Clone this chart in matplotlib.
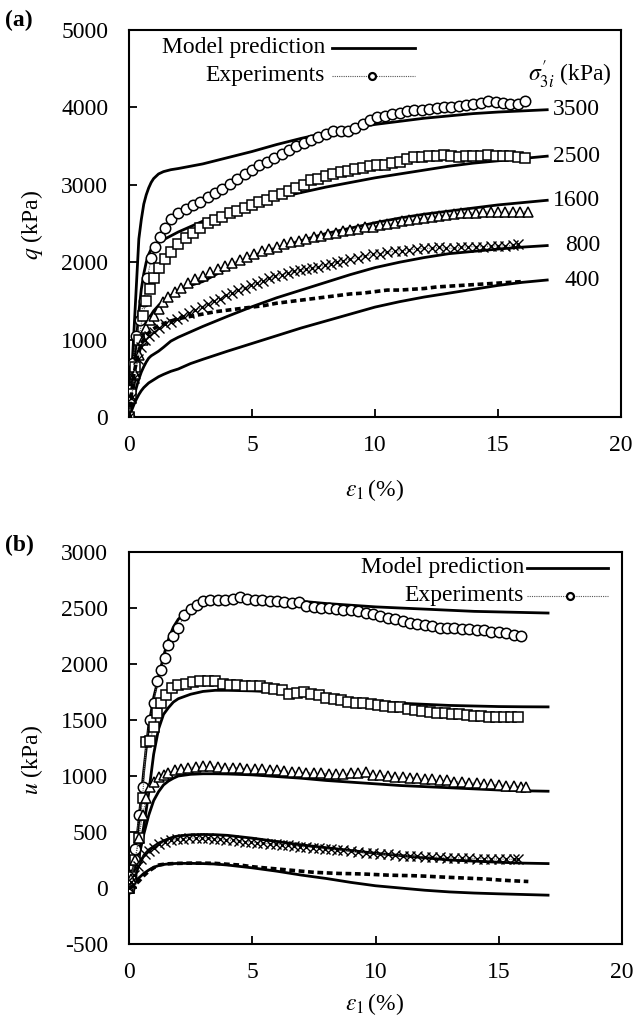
import matplotlib
matplotlib.use("Agg")
import matplotlib.pyplot as plt
from matplotlib.lines import Line2D
from matplotlib import font_manager

_avail = {f.name for f in font_manager.fontManager.ttflist}
_fam = [f for f in ['Liberation Serif', 'STIXGeneral', 'DejaVu Serif'] if f in _avail]
plt.rcParams['font.family'] = _fam
plt.rcParams['mathtext.fontset'] = 'stix'
plt.rcParams['axes.unicode_minus'] = False

# ---------------- Panel (a): deviator stress q ----------------
ma_x = [0, 0.1, 0.2, 0.3, 0.4, 0.5, 0.6, 0.7, 0.8, 0.9, 1.0, 1.2, 1.4, 1.7, 2.0, 2.5, 3, 4, 5, 6, 7, 8, 9, 10, 11, 12, 13, 14, 15, 16, 17]
ma_3500 = [0, 500, 1100, 1700, 2300, 2550, 2750, 2870, 2960, 3030, 3080, 3140, 3170, 3195, 3210, 3240, 3270, 3350, 3430, 3520, 3600, 3670, 3730, 3780, 3820, 3860, 3890, 3920, 3940, 3955, 3970]
ma_2500 = [0, 300, 650, 1000, 1350, 1650, 1850, 2000, 2100, 2170, 2220, 2260, 2290, 2340, 2390, 2460, 2530, 2640, 2740, 2830, 2900, 2970, 3030, 3090, 3140, 3190, 3240, 3280, 3310, 3340, 3370]
ma_1600 = [0, 200, 400, 600, 800, 950, 1080, 1180, 1260, 1320, 1370, 1440, 1500, 1570, 1630, 1700, 1750, 1920, 2080, 2180, 2280, 2370, 2440, 2510, 2570, 2620, 2660, 2700, 2740, 2770, 2800]
ma_800 = [0, 130, 260, 380, 490, 580, 650, 710, 760, 790, 810, 850, 900, 980, 1030, 1100, 1170, 1300, 1425, 1540, 1640, 1740, 1840, 1930, 2000, 2060, 2110, 2140, 2170, 2195, 2215]
ma_400 = [0, 80, 160, 230, 290, 340, 380, 410, 440, 460, 480, 520, 550, 590, 620, 690, 745, 850, 950, 1050, 1150, 1240, 1330, 1420, 1490, 1550, 1600, 1650, 1700, 1740, 1770]

ea_3500_x = [0, 0.05, 0.15, 0.3, 0.45, 0.6, 0.75, 0.9, 1.05, 1.25, 1.45, 1.7, 2.0, 2.3, 2.6, 2.9, 3.2, 3.5, 3.8, 4.1, 4.4, 4.7, 5.0, 5.3, 5.6, 5.9, 6.2, 6.5, 6.8, 7.1, 7.4, 7.7, 8.0, 8.3, 8.6, 8.9, 9.2, 9.5, 9.8, 10.1, 10.4, 10.7, 11.0, 11.3, 11.6, 11.9, 12.2, 12.5, 12.8, 13.1, 13.4, 13.7, 14.0, 14.3, 14.6, 14.9, 15.2, 15.5, 15.8, 16.1]
ea_3500 = [0, 350, 700, 1050, 1250, 1500, 1800, 2050, 2200, 2330, 2440, 2560, 2630, 2690, 2740, 2780, 2840, 2900, 2950, 3010, 3070, 3140, 3190, 3250, 3300, 3350, 3400, 3450, 3500, 3540, 3580, 3620, 3660, 3690, 3700, 3700, 3740, 3790, 3840, 3870, 3890, 3920, 3930, 3950, 3960, 3970, 3980, 3990, 4000, 4010, 4020, 4030, 4040, 4060, 4080, 4070, 4060, 4050, 4040, 4080]

ea_2500_x = [0, 0.1, 0.25, 0.4, 0.55, 0.7, 0.85, 1.0, 1.2, 1.45, 1.7, 2.0, 2.3, 2.6, 2.9, 3.2, 3.5, 3.8, 4.1, 4.4, 4.7, 5.0, 5.3, 5.6, 5.9, 6.2, 6.5, 6.8, 7.1, 7.4, 7.7, 8.0, 8.3, 8.6, 8.9, 9.2, 9.5, 9.8, 10.1, 10.4, 10.7, 11.0, 11.3, 11.6, 11.9, 12.2, 12.5, 12.8, 13.1, 13.4, 13.7, 14.0, 14.3, 14.6, 14.9, 15.2, 15.5, 15.8, 16.1]
ea_2500 = [0, 300, 650, 1000, 1300, 1500, 1650, 1800, 1930, 2040, 2130, 2230, 2310, 2380, 2440, 2500, 2540, 2590, 2630, 2660, 2700, 2740, 2780, 2810, 2850, 2880, 2920, 2960, 3000, 3060, 3080, 3120, 3140, 3160, 3180, 3200, 3220, 3240, 3250, 3260, 3280, 3300, 3330, 3360, 3360, 3370, 3370, 3380, 3370, 3360, 3370, 3370, 3370, 3380, 3370, 3370, 3370, 3360, 3350]

ea_1600_x = [0, 0.1, 0.25, 0.4, 0.55, 0.7, 0.85, 1.0, 1.2, 1.4, 1.6, 1.85, 2.1, 2.4, 2.7, 3.0, 3.3, 3.6, 3.9, 4.2, 4.5, 4.8, 5.1, 5.4, 5.7, 6.0, 6.3, 6.6, 6.9, 7.2, 7.5, 7.8, 8.1, 8.4, 8.7, 9.0, 9.3, 9.6, 9.9, 10.2, 10.5, 10.8, 11.1, 11.4, 11.7, 12.0, 12.3, 12.6, 12.9, 13.2, 13.5, 13.8, 14.1, 14.4, 14.7, 15.0, 15.3, 15.6, 15.9, 16.2]
ea_1600 = [0, 250, 550, 800, 1000, 1150, 1250, 1300, 1400, 1480, 1550, 1620, 1670, 1730, 1780, 1820, 1870, 1910, 1950, 1990, 2030, 2070, 2100, 2140, 2170, 2200, 2230, 2260, 2280, 2300, 2320, 2340, 2360, 2380, 2400, 2420, 2430, 2450, 2460, 2480, 2490, 2510, 2530, 2540, 2560, 2570, 2590, 2600, 2610, 2620, 2630, 2640, 2640, 2650, 2650, 2650, 2650, 2650, 2650, 2650]

ea_800_x = [0, 0.1, 0.2, 0.35, 0.5, 0.65, 0.8, 1.0, 1.2, 1.45, 1.7, 1.95, 2.2, 2.45, 2.7, 2.95, 3.2, 3.45, 3.7, 3.95, 4.2, 4.45, 4.7, 4.95, 5.2, 5.45, 5.7, 5.95, 6.2, 6.45, 6.7, 6.95, 7.2, 7.45, 7.7, 7.95, 8.2, 8.45, 8.7, 9.0, 9.3, 9.6, 9.9, 10.2, 10.5, 10.8, 11.1, 11.4, 11.7, 12.0, 12.3, 12.6, 12.9, 13.2, 13.5, 13.8, 14.1, 14.4, 14.7, 15.0, 15.3, 15.6, 15.8]
ea_800 = [0, 250, 500, 750, 900, 1000, 1050, 1100, 1150, 1200, 1230, 1270, 1300, 1340, 1380, 1420, 1460, 1500, 1530, 1570, 1600, 1640, 1670, 1700, 1730, 1760, 1790, 1820, 1840, 1860, 1880, 1900, 1910, 1920, 1940, 1960, 1980, 2000, 2020, 2040, 2060, 2080, 2100, 2110, 2130, 2140, 2150, 2160, 2170, 2180, 2180, 2190, 2180, 2180, 2190, 2200, 2200, 2200, 2210, 2210, 2210, 2220, 2230]

ea_400_x = [0, 0.1, 0.2, 0.35, 0.5, 0.7, 0.9, 1.2, 1.6, 2.0, 2.5, 3.0, 3.5, 4.0, 4.5, 5.0, 5.5, 6.0, 6.5, 7.0, 7.5, 8.0, 8.5, 9.0, 9.5, 10.0, 10.5, 11.0, 11.5, 12.0, 12.5, 13.0, 13.5, 14.0, 14.5, 15.0, 15.5, 16.0]
ea_400 = [0, 300, 550, 800, 950, 1050, 1120, 1180, 1230, 1270, 1300, 1330, 1360, 1380, 1400, 1420, 1440, 1470, 1490, 1510, 1530, 1550, 1570, 1590, 1600, 1620, 1640, 1640, 1650, 1660, 1680, 1690, 1700, 1710, 1720, 1730, 1740, 1750]

# ---------------- Panel (b): pore pressure u ----------------
mb_x = [0, 0.2, 0.4, 0.6, 0.8, 1.0, 1.2, 1.4, 1.6, 1.8, 2.0, 2.5, 3, 3.5, 4, 5, 6, 7, 8, 9, 10, 11, 12, 13, 14, 15, 16, 17]
mb_3500 = [0, 200, 600, 1050, 1450, 1700, 1880, 2070, 2220, 2330, 2400, 2500, 2545, 2570, 2585, 2585, 2575, 2560, 2540, 2525, 2510, 2500, 2490, 2480, 2470, 2465, 2460, 2455]
mb_2500 = [0, 100, 300, 550, 850, 1194, 1420, 1550, 1610, 1660, 1690, 1730, 1755, 1765, 1765, 1760, 1750, 1740, 1715, 1690, 1665, 1650, 1640, 1630, 1625, 1620, 1618, 1617]
mb_1600 = [0, 100, 280, 480, 650, 780, 860, 920, 955, 980, 1000, 1015, 1020, 1020, 1018, 1010, 995, 980, 960, 945, 930, 915, 905, 895, 885, 875, 868, 864]
mb_800 = [0, 80, 200, 290, 340, 370, 400, 420, 440, 455, 465, 475, 478, 476, 470, 445, 415, 385, 360, 335, 310, 290, 270, 250, 240, 230, 222, 218]
mb_400 = [0, 40, 90, 130, 160, 185, 200, 210, 215, 218, 220, 220, 218, 214, 205, 180, 150, 115, 85, 50, 20, 0, -20, -35, -45, -52, -58, -64]

eb_3500_x = [0, 0.1, 0.25, 0.4, 0.55, 0.7, 0.85, 1.0, 1.15, 1.3, 1.45, 1.6, 1.8, 2.0, 2.25, 2.5, 2.75, 3.0, 3.3, 3.6, 3.9, 4.2, 4.5, 4.8, 5.1, 5.4, 5.7, 6.0, 6.3, 6.6, 6.9, 7.2, 7.5, 7.8, 8.1, 8.4, 8.7, 9.0, 9.3, 9.6, 9.9, 10.2, 10.5, 10.8, 11.1, 11.4, 11.7, 12.0, 12.3, 12.6, 12.9, 13.2, 13.5, 13.8, 14.1, 14.4, 14.7, 15.0, 15.3, 15.6, 15.9]
eb_3500 = [0, 120, 350, 650, 900, 1310, 1500, 1650, 1850, 1950, 2050, 2170, 2250, 2320, 2440, 2490, 2530, 2560, 2570, 2575, 2575, 2580, 2595, 2580, 2575, 2570, 2565, 2560, 2550, 2545, 2550, 2520, 2505, 2500, 2500, 2495, 2485, 2480, 2470, 2455, 2445, 2430, 2415, 2400, 2385, 2370, 2355, 2345, 2335, 2325, 2320, 2320, 2315, 2310, 2305, 2300, 2290, 2285, 2275, 2260, 2250]

eb_2500_x = [0, 0.1, 0.25, 0.4, 0.55, 0.7, 0.85, 1.0, 1.15, 1.3, 1.5, 1.75, 2.0, 2.3, 2.6, 2.9, 3.2, 3.5, 3.8, 4.1, 4.4, 4.7, 5.0, 5.3, 5.6, 5.9, 6.2, 6.5, 6.8, 7.1, 7.4, 7.7, 8.0, 8.3, 8.6, 8.9, 9.2, 9.5, 9.8, 10.1, 10.4, 10.7, 11.0, 11.3, 11.6, 11.9, 12.2, 12.5, 12.8, 13.1, 13.4, 13.7, 14.0, 14.3, 14.6, 14.9, 15.2, 15.5, 15.8]
eb_2500 = [0, 100, 250, 450, 800, 1300, 1310, 1440, 1560, 1650, 1720, 1790, 1810, 1820, 1840, 1845, 1850, 1845, 1825, 1810, 1810, 1805, 1800, 1800, 1790, 1780, 1765, 1730, 1740, 1750, 1730, 1720, 1700, 1690, 1680, 1660, 1655, 1650, 1640, 1630, 1625, 1620, 1615, 1600, 1590, 1580, 1575, 1565, 1560, 1555, 1550, 1545, 1540, 1535, 1530, 1530, 1528, 1525, 1525]

eb_1600_x = [0, 0.1, 0.25, 0.4, 0.55, 0.7, 0.85, 1.0, 1.2, 1.4, 1.6, 1.85, 2.1, 2.4, 2.7, 3.0, 3.3, 3.6, 3.9, 4.2, 4.5, 4.8, 5.1, 5.4, 5.7, 6.0, 6.3, 6.6, 6.9, 7.2, 7.5, 7.8, 8.1, 8.4, 8.7, 9.0, 9.3, 9.6, 9.9, 10.2, 10.5, 10.8, 11.1, 11.4, 11.7, 12.0, 12.3, 12.6, 12.9, 13.2, 13.5, 13.8, 14.1, 14.4, 14.7, 15.0, 15.3, 15.6, 15.9, 16.1]
eb_1600 = [0, 80, 250, 450, 650, 800, 900, 950, 990, 1010, 1030, 1050, 1065, 1075, 1080, 1085, 1085, 1080, 1075, 1075, 1070, 1065, 1060, 1060, 1055, 1050, 1045, 1040, 1035, 1030, 1025, 1025, 1020, 1020, 1020, 1025, 1030, 1035, 1010, 1005, 1000, 995, 990, 985, 980, 975, 970, 965, 960, 950, 945, 940, 935, 930, 925, 920, 915, 910, 905, 900]

eb_800_x = [0, 0.1, 0.2, 0.35, 0.5, 0.65, 0.8, 1.0, 1.2, 1.45, 1.7, 1.95, 2.2, 2.45, 2.7, 2.95, 3.2, 3.45, 3.7, 3.95, 4.2, 4.45, 4.7, 4.95, 5.2, 5.45, 5.7, 5.95, 6.2, 6.45, 6.7, 6.95, 7.2, 7.45, 7.7, 7.95, 8.2, 8.45, 8.7, 9.0, 9.3, 9.6, 9.9, 10.2, 10.5, 10.8, 11.1, 11.4, 11.7, 12.0, 12.3, 12.6, 12.9, 13.2, 13.5, 13.8, 14.1, 14.4, 14.7, 15.0, 15.3, 15.6, 15.8]
eb_800 = [0, 50, 120, 200, 260, 300, 330, 360, 390, 410, 425, 435, 440, 445, 445, 445, 445, 440, 435, 430, 425, 420, 415, 410, 405, 400, 395, 390, 385, 380, 375, 370, 365, 360, 355, 350, 345, 340, 335, 330, 322, 315, 310, 305, 300, 295, 290, 285, 282, 280, 277, 275, 272, 270, 268, 265, 263, 262, 260, 258, 257, 256, 255]

eb_400_x = [0, 0.2, 0.4, 0.6, 0.8, 1.0, 1.2, 1.5, 2.0, 2.5, 3.0, 3.5, 4.0, 4.5, 5.0, 5.5, 6.0, 6.5, 7.0, 7.5, 8.0, 8.5, 9.0, 9.5, 10.0, 10.5, 11.0, 11.5, 12.0, 12.5, 13.0, 13.5, 14.0, 14.5, 15.0, 15.5, 16.0, 16.2]
eb_400 = [0, 20, 60, 110, 150, 180, 205, 215, 220, 222, 222, 220, 212, 205, 190, 180, 170, 160, 150, 140, 135, 130, 128, 125, 120, 115, 112, 110, 106, 100, 95, 90, 85, 80, 72, 65, 60, 58]

pressure_labels = ['3500', '2500', '1600', '800', '400']
x_ticks = [0, 5, 10, 15, 20]
qa_ticks = [0, 1000, 2000, 3000, 4000, 5000]
ub_ticks = [-500, 0, 500, 1000, 1500, 2000, 2500, 3000]

W, H = 636, 1028
fig = plt.figure(figsize=(W / 100, H / 100), dpi=100)


def rect(l, t, r, b):
    return [l / W, 1 - b / H, (r - l) / W, (b - t) / H]


axa = fig.add_axes(rect(129, 30, 621, 417))
axb = fig.add_axes(rect(129, 552, 622, 944))

exp_line = dict(color='#555555', lw=0.8, ls=(0, (1, 1)))
mk = dict(mfc='white', mec='black', mew=1.1, ms=7.5)


def draw(ax, mx, models, exps):
    for m in models:
        ax.plot(mx, m, color='black', lw=2.0, zorder=3)
    (x1, y1), (x2, y2), (x3, y3), (x4, y4), (x5, y5) = exps
    ax.plot(x1, y1, marker='o', **exp_line, **mk, zorder=4)
    ax.plot(x2, y2, marker='s', **exp_line, **{**mk, 'ms': 7}, zorder=4)
    ax.plot(x3, y3, marker='^', **exp_line, **mk, zorder=4)
    ax.plot(x4, y4, marker='x', color='#555555', lw=0.8, ls=(0, (1, 1)), mec='black', mew=1.0, ms=7, zorder=4)
    ax.plot(x5, y5, color='black', lw=2.6, ls=(0, (1.6, 1.0)), zorder=4)


draw(axa, ma_x, [ma_3500, ma_2500, ma_1600, ma_800, ma_400],
     [(ea_3500_x, ea_3500), (ea_2500_x, ea_2500), (ea_1600_x, ea_1600),
      (ea_800_x, ea_800), (ea_400_x, ea_400)])
draw(axb, mb_x, [mb_3500, mb_2500, mb_1600, mb_800, mb_400],
     [(eb_3500_x, eb_3500), (eb_2500_x, eb_2500), (eb_1600_x, eb_1600),
      (eb_800_x, eb_800), (eb_400_x, eb_400)])

FS = 17
for ax, yt, ylim in [(axa, qa_ticks, (0, 5000)), (axb, ub_ticks, (-500, 3000))]:
    ax.set_xlim(0, 20)
    ax.set_ylim(*ylim)
    ax.set_xticks(x_ticks)
    ax.set_yticks(yt)
    ax.tick_params(direction='in', length=6, width=1.3, labelsize=FS, top=False, right=False)
    ax.tick_params(axis='y', pad=15)
    ax.tick_params(axis='x', pad=13)
    for s in ax.spines.values():
        s.set_linewidth(1.5)

# axis labels at explicit positions
fig.text(375 / W, 1 - 490 / H, r'$\varepsilon_1\,$(%)', fontsize=FS, ha='center', va='center')
fig.text(375 / W, 1 - 1004 / H, r'$\varepsilon_1\,$(%)', fontsize=FS, ha='center', va='center')
fig.text(32 / W, 1 - 225 / H, r'$q$ (kPa)', fontsize=FS, ha='center', va='center', rotation=90)
fig.text(32 / W, 1 - 760 / H, r'$u$ (kPa)', fontsize=FS, ha='center', va='center', rotation=90)

# end-of-curve labels in (a)
for lab, yv in zip(pressure_labels, [ma_3500[-1], ma_2500[-1], ma_1600[-1], ma_800[-1], ma_400[-1]]):
    axa.text(19.15, yv, lab, ha='right', va='center', fontsize=FS)


def px(ax, x, y):
    return ax.transAxes.inverted().transform(fig.transFigure.transform((x / W, 1 - y / H)))


def legend(ax, text_right, y1, y2, l0, l1, mx):
    t1 = px(ax, text_right, y1)
    t2 = px(ax, text_right, y2)
    ax.text(t1[0], t1[1], 'Model prediction', ha='right', va='center', fontsize=FS, transform=ax.transAxes)
    ax.text(t2[0], t2[1], 'Experiments', ha='right', va='center', fontsize=FS, transform=ax.transAxes)
    a, b = px(ax, l0, y1 + 1), px(ax, l1, y1 + 1)
    ax.add_line(Line2D([a[0], b[0]], [a[1], b[1]], color='black', lw=2.0, transform=ax.transAxes))
    a, b = px(ax, l0, y2 + 1), px(ax, l1, y2 + 1)
    ax.add_line(Line2D([a[0], b[0]], [a[1], b[1]], transform=ax.transAxes, **exp_line))
    m = px(ax, mx, y2 + 1)
    ax.add_line(Line2D([m[0]], [m[1]], marker='o', ms=5, mfc='white', mec='black', mew=1.6, ls='none', transform=ax.transAxes))


legend(axa, 325, 47, 75, 332, 415, 372)
legend(axb, 524, 567, 595, 527, 608, 570)

s = px(axa, 612, 75)
axa.text(s[0], s[1], r"$\sigma_{3i}^{\prime}$ (kPa)", ha='right', va='center', fontsize=FS, transform=axa.transAxes)

fig.text(5 / W, 1 - 20 / H, '(a)', fontsize=FS, fontweight='bold', va='center', ha='left')
fig.text(5 / W, 1 - 545 / H, '(b)', fontsize=FS, fontweight='bold', va='center', ha='left')

fig.savefig('out.png', dpi=100)
